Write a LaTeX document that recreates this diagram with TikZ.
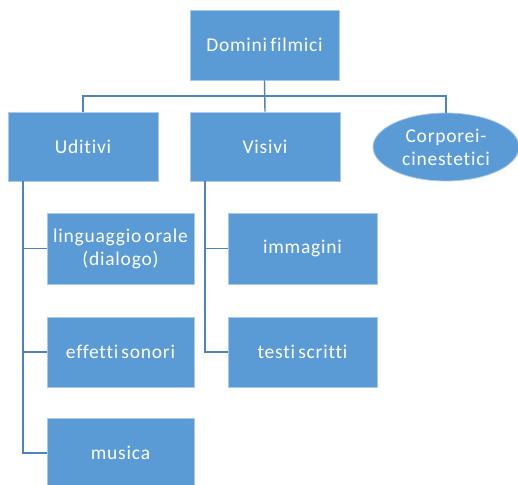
\documentclass[tikz,border=0pt]{standalone}
\usepackage{fontspec}
\setmainfont{Carlito}[Ligatures=NoCommon,LetterSpace=4,WordSpace=0.6]
\usetikzlibrary{shapes.geometric}
\definecolor{boxfill}{HTML}{5B9BD5}
\definecolor{boxedge}{HTML}{A9C8EA}
\definecolor{linkcol}{HTML}{4F83BD}
\begin{document}
\begin{tikzpicture}[x=1pt,y=-1pt,
  box/.style={draw=boxedge,line width=0.8pt,fill=boxfill,text=white,
    font=\fontsize{19.5}{23}\selectfont,align=center,inner sep=0pt},
  oval/.style={ellipse,draw=boxedge,line width=0.8pt,fill=boxfill,text=white,
    font=\fontsize{19.5}{23}\selectfont,align=center,inner sep=0pt,
    minimum width=146pt,minimum height=68pt},
  link/.style={draw=linkcol,line width=1.4pt}]
\useasboundingbox (0,0) rectangle (518,484);
\node[box,minimum width=149pt,minimum height=70pt] (top) at (264.5,45) {Domini filmici};
\node[box,minimum width=150pt,minimum height=69pt] (udi) at (83,146.5) {Uditivi};
\node[box,minimum width=150pt,minimum height=69pt] (vis) at (265,146.5) {Visivi};
\node[oval] (cor) at (446,147) {Corporei-\\cinestetici};
\node[box,minimum width=147pt,minimum height=71pt] (lin) at (120.5,248.5) {linguaggio orale\\(dialogo)};
\node[box,minimum width=147pt,minimum height=70pt] (eff) at (120.5,352) {effetti sonori};
\node[box,minimum width=147pt,minimum height=70pt] (mus) at (120.5,453) {musica};
\node[box,minimum width=149pt,minimum height=71pt] (img) at (302.5,248.5) {immagini};
\node[box,minimum width=149pt,minimum height=70pt] (tes) at (302.5,352) {testi scritti};
\coordinate (hl) at (83,96);
\coordinate (ul) at (23,181);
\coordinate (vl) at (205,181);
\draw[link] (top.south) -- (vis.north);
\draw[link] (udi.north) -- (hl) -| (cor.north);
\draw[link] (ul) |- (lin.west);
\draw[link] (ul) |- (eff.west);
\draw[link] (ul) |- (mus.west);
\draw[link] (vl) |- (img.west);
\draw[link] (vl) |- (tes.west);
\end{tikzpicture}
\end{document}
